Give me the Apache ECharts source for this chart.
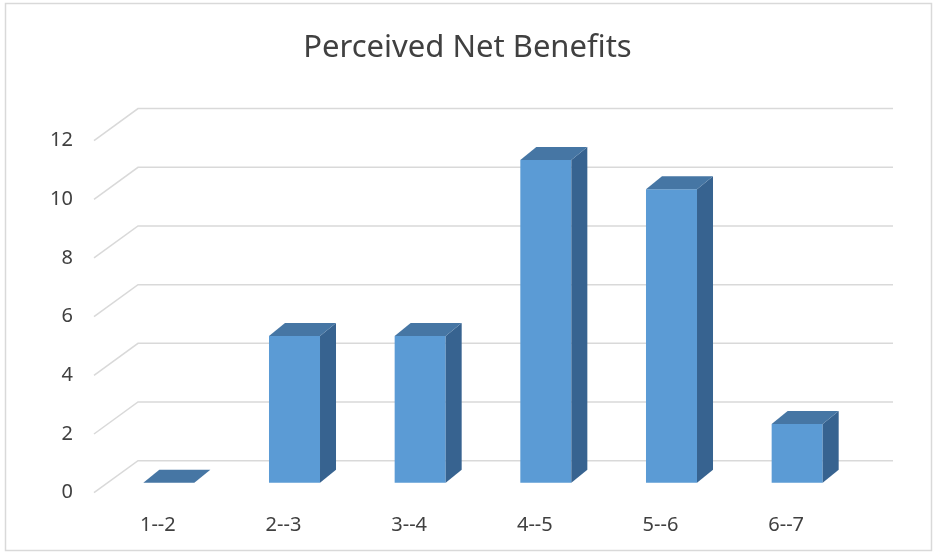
<!DOCTYPE html>
<html>
<head>
<meta charset="utf-8">
<title>Perceived Net Benefits</title>
<script src="https://cdn.jsdelivr.net/npm/echarts@6/dist/echarts.min.js"></script>
<style>
  html, body { margin: 0; padding: 0; background: #fff; }
  #chart { width: 935px; height: 554px; }
</style>
</head>
<body>
<div id="chart"></div>
<script>
// data
const categories = ['1--2', '2--3', '3--4', '4--5', '5--6', '6--7'];
const counts = [0, 5, 5, 11, 10, 2];
const yTicks = [0, 2, 4, 6, 8, 10, 12];

// 3D look: wall depth, bar position in depth, bar depth
const wallDepth = [44, -32];
const barFront = [11, -10];
const barDepth = [16, -13];
const barWidthRatio = 0.406;

const colors = {
    front: '#5b9bd5',
    top: '#4676a4',
    side: '#376390',
    grid: '#d9d9d9',
    text: '#404040'
};

const chart = echarts.init(document.getElementById('chart'));

function renderGridLine(params, api) {
    const cs = params.coordSys;
    const y = api.coord([0, api.value(0)])[1];
    const x0 = cs.x - 1;
    const bx = x0 + wallDepth[0], by = y + wallDepth[1];
    return {
        type: 'polyline',
        shape: { points: [[x0, y], [bx, by], [cs.x + cs.width + wallDepth[0], by]] },
        style: { stroke: colors.grid, lineWidth: 1.5, fill: null },
        silent: true
    };
}

function renderBar(params, api) {
    const idx = api.value(0);
    const base = api.coord([idx, 0]);
    const top = api.coord([idx, api.value(1)]);
    const w = api.size([1, 0])[0] * barWidthRatio;
    const x1 = base[0] + barFront[0] - w / 2;
    const x2 = x1 + w;
    const yb = base[1] + barFront[1];
    const yt = top[1] + barFront[1];
    const dx = barDepth[0], dy = barDepth[1];
    const children = [];
    if (yb - yt > 0.5) {
        children.push({
            type: 'polygon',
            shape: { points: [[x1, yb], [x2, yb], [x2, yt], [x1, yt]] },
            style: { fill: colors.front }
        });
        children.push({
            type: 'polygon',
            shape: { points: [[x2, yb], [x2 + dx, yb + dy], [x2 + dx, yt + dy], [x2, yt]] },
            style: { fill: colors.side }
        });
    }
    children.push({
        type: 'polygon',
        shape: { points: [[x1, yt], [x2, yt], [x2 + dx, yt + dy], [x1 + dx, yt + dy]] },
        style: { fill: colors.top }
    });
    return { type: 'group', children: children };
}

const option = {
    backgroundColor: '#fff',
    animation: false,
    title: {
        text: 'Perceived Net Benefits',
        left: 'center',
        top: 28,
        padding: [5, 5, 5, 25],
        textStyle: {
            fontFamily: 'Noto Sans',
            fontSize: 31,
            fontWeight: 'normal',
            color: colors.text
        }
    },
    grid: {
        left: 95,
        right: 86,
        top: 140.6,
        bottom: 61.3
    },
    xAxis: {
        type: 'category',
        data: categories,
        axisLine: { show: false },
        axisTick: { show: false },
        axisLabel: {
            margin: 23,
            color: colors.text,
            fontFamily: 'Noto Sans',
            fontSize: 20
        }
    },
    yAxis: {
        type: 'value',
        min: 0,
        max: 12,
        interval: 2,
        axisLine: { show: false },
        axisTick: { show: false },
        splitLine: { show: false },
        axisLabel: {
            margin: 22,
            color: colors.text,
            fontFamily: 'Noto Sans',
            fontSize: 20,
            verticalAlign: 'middle'
        }
    },
    graphic: [{
        type: 'rect',
        shape: { x: 5.5, y: 3.5, width: 926, height: 547 },
        style: { fill: null, stroke: colors.grid, lineWidth: 1.5 },
        silent: true
    }],
    series: [{
        type: 'custom',
        renderItem: renderGridLine,
        data: yTicks.map(function (v) { return [v]; }),
        encode: { y: 0 },
        z: 1,
        silent: true
    }, {
        type: 'custom',
        renderItem: renderBar,
        data: counts.map(function (v, i) { return [i, v]; }),
        encode: { x: 0, y: 1 },
        z: 2
    }]
};

chart.setOption(option);
</script>
</body>
</html>
